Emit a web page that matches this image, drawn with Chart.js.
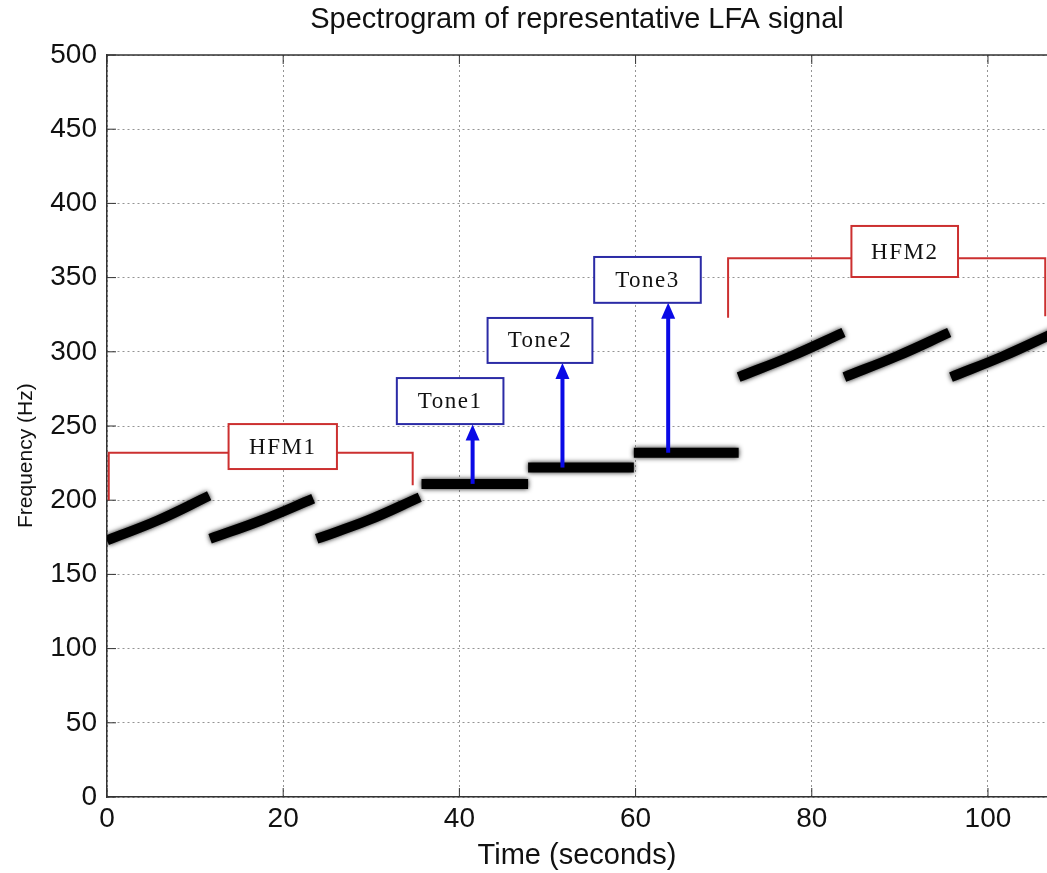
<!DOCTYPE html>
<html>
<head>
<meta charset="utf-8">
<title>Spectrogram of representative LFA signal</title>
<script src="https://cdn.jsdelivr.net/npm/chart.js@4.4.1/dist/chart.umd.min.js"></script>
<style>
    body { margin: 0; background: #fff; }
    #wrap { width: 1047px; height: 873px; }
</style>
</head>
<body>
<div id="wrap"><canvas id="myChart"></canvas></div>
<script>
// sweep / tone segments (seconds, Hz)
const segStartTime = [0, 11.7, 23.8, 35.7, 47.8, 59.8, 71.7, 83.7, 95.8];
const segEndTime = [11.6, 23.4, 35.5, 47.8, 59.8, 71.7, 83.6, 95.6, 107.6];
const segStartFreq = [173, 174, 174, 211, 222, 232, 283, 283, 283];
const segMidFreq = [186.5, 186.5, 186.5, 211, 222, 232, 297, 297, 297];
const segEndFreq = [203, 201, 202, 211, 222, 232, 313, 313, 313];

const xTicks = [0, 20, 40, 60, 80, 100];
const yTicks = [0, 50, 100, 150, 200, 250, 300, 350, 400, 450, 500];

const toneLabels = ['Tone1', 'Tone2', 'Tone3'];
const toneArrowTime = [41.5, 51.7, 63.7];
const toneArrowFrom = [211, 222, 232];
const toneArrowTo = [251, 292.5, 333];

// build the trace, null between segments breaks the line
const trace = [];
for (let i = 0; i < segStartTime.length; i++) {
    trace.push({x: segStartTime[i], y: segStartFreq[i]});
    trace.push({x: (segStartTime[i] + segEndTime[i]) / 2, y: segMidFreq[i]});
    trace.push({x: segEndTime[i], y: segEndFreq[i]});
    trace.push({x: segEndTime[i], y: null});
}

// annotation layout (data units)
const brackets = [
    {text: 'HFM1', x0: 0.2, y0: 200, x1: 34.7, y1: 210, top: 232, box: [13.8, 26.1, 221, 251.3]},
    {text: 'HFM2', x0: 70.5, y0: 323, x1: 106.5, y1: 324, top: 363, box: [84.5, 96.6, 350.4, 384.8]}
];
const toneBoxes = [
    [32.9, 45.0, 251.3, 282.3],
    [43.2, 55.1, 292.5, 322.8],
    [55.3, 67.4, 333, 363.9]
];

const sansFont = '"Liberation Sans", Arial, sans-serif';

function drawBox(ctx, x, y, b, color, text) {
    const l = x.getPixelForValue(b[0]), r = x.getPixelForValue(b[1]);
    const bt = y.getPixelForValue(b[2]), tp = y.getPixelForValue(b[3]);
    ctx.fillStyle = '#fff';
    ctx.fillRect(l, tp, r - l, bt - tp);
    ctx.strokeStyle = color;
    ctx.lineWidth = 2;
    ctx.strokeRect(l, tp, r - l, bt - tp);
    ctx.fillStyle = '#111';
    ctx.font = '23px "Liberation Serif", "DejaVu Serif", serif';
    ctx.letterSpacing = '1.5px';
    ctx.textAlign = 'center';
    ctx.textBaseline = 'middle';
    ctx.fillText(text, (l + r) / 2, (tp + bt) / 2 + 1);
    ctx.letterSpacing = '0px';
}

const annotationPlugin = {
    id: 'annotations',
    beforeDatasetDraw(chart) {
        const ctx = chart.ctx;
        ctx.save();
        ctx.shadowColor = 'rgba(0,0,0,0.9)';
        ctx.shadowBlur = 5;
    },
    afterDatasetDraw(chart) {
        chart.ctx.restore();
    },
    afterDatasetsDraw(chart) {
        const ctx = chart.ctx;
        const x = chart.scales.x, y = chart.scales.y;
        const area = chart.chartArea;
        ctx.save();

        // box top line and inward tick marks
        ctx.strokeStyle = '#333';
        ctx.lineWidth = 1.5;
        ctx.beginPath();
        ctx.moveTo(area.left, area.top);
        ctx.lineTo(area.right, area.top);
        ctx.stroke();
        ctx.lineWidth = 1;
        ctx.beginPath();
        xTicks.forEach(function (v) {
            const px = x.getPixelForValue(v);
            ctx.moveTo(px, area.bottom);
            ctx.lineTo(px, area.bottom - 9);
            ctx.moveTo(px, area.top);
            ctx.lineTo(px, area.top + 9);
        });
        yTicks.forEach(function (v) {
            const py = y.getPixelForValue(v);
            ctx.moveTo(area.left, py);
            ctx.lineTo(area.left + 9, py);
        });
        ctx.stroke();

        // y axis label, sits a bit below the middle like the original
        ctx.save();
        ctx.translate(26, y.getPixelForValue(230));
        ctx.rotate(-Math.PI / 2);
        ctx.fillStyle = '#111';
        ctx.font = '21px ' + sansFont;
        ctx.textAlign = 'center';
        ctx.textBaseline = 'middle';
        ctx.fillText('Frequency (Hz)', 0, 0);
        ctx.restore();

        // red brackets with label boxes
        brackets.forEach(function (b) {
            ctx.strokeStyle = '#cc3030';
            ctx.lineWidth = 2;
            ctx.beginPath();
            ctx.moveTo(x.getPixelForValue(b.x0), y.getPixelForValue(b.y0));
            ctx.lineTo(x.getPixelForValue(b.x0), y.getPixelForValue(b.top));
            ctx.lineTo(x.getPixelForValue(b.x1), y.getPixelForValue(b.top));
            ctx.lineTo(x.getPixelForValue(b.x1), y.getPixelForValue(b.y1));
            ctx.stroke();
            drawBox(ctx, x, y, b.box, '#cc3030', b.text);
        });

        // blue tone arrows
        toneLabels.forEach(function (label, i) {
            const px = x.getPixelForValue(toneArrowTime[i]);
            const pFrom = y.getPixelForValue(toneArrowFrom[i]);
            const pTo = y.getPixelForValue(toneArrowTo[i]);
            ctx.strokeStyle = '#0a0ae6';
            ctx.fillStyle = '#0a0ae6';
            ctx.lineWidth = 4;
            ctx.beginPath();
            ctx.moveTo(px, pFrom);
            ctx.lineTo(px, pTo + 12);
            ctx.stroke();
            ctx.beginPath();
            ctx.moveTo(px, pTo);
            ctx.lineTo(px - 7, pTo + 16);
            ctx.lineTo(px + 7, pTo + 16);
            ctx.closePath();
            ctx.fill();
            drawBox(ctx, x, y, toneBoxes[i], '#2b2ba6', label);
        });
        ctx.restore();
    }
};

const ctx = document.querySelector('#myChart');
new Chart(ctx, {
    type: 'line',
    data: {
        datasets: [
            {
                label: 'LFA',
                data: trace,
                borderColor: '#000',
                borderWidth: 10,
                borderCapStyle: 'butt',
                pointRadius: 0,
                spanGaps: false,
                tension: 0.4
            }
        ]
    },
    options: {
        responsive: true,
        maintainAspectRatio: false,
        animation: false,
        layout: {padding: 0},
        plugins: {
            legend: {display: false},
            tooltip: {enabled: false},
            title: {
                display: true,
                fullSize: false,
                text: 'Spectrogram of representative LFA signal',
                color: '#111',
                font: {family: sansFont, size: 29, weight: 'normal'},
                padding: {top: 3, bottom: 17.2}
            }
        },
        scales: {
            x: {
                type: 'linear',
                min: 0,
                max: 106.7,
                afterFit: function (scale) { scale.height = 76; },
                ticks: {
                    stepSize: 20,
                    includeBounds: false,
                    padding: 5,
                    color: '#111',
                    font: {family: sansFont, size: 28}
                },
                grid: {color: 'rgba(0,0,0,0.42)', drawTicks: false, lineWidth: 1},
                border: {display: true, color: '#333', width: 1.5, dash: [2, 3]},
                title: {
                    display: true,
                    text: 'Time (seconds)',
                    color: '#111',
                    font: {family: sansFont, size: 29},
                    padding: {top: 0, bottom: 0}
                }
            },
            y: {
                min: 0,
                max: 500,
                afterFit: function (scale) { scale.width = 107; },
                ticks: {
                    stepSize: 50,
                    padding: 10,
                    color: '#111',
                    font: {family: sansFont, size: 28}
                },
                grid: {color: 'rgba(0,0,0,0.42)', drawTicks: false, lineWidth: 1},
                border: {display: true, color: '#333', width: 1.5, dash: [2, 3]}
            }
        }
    },
    plugins: [annotationPlugin]
});
</script>
</body>
</html>
